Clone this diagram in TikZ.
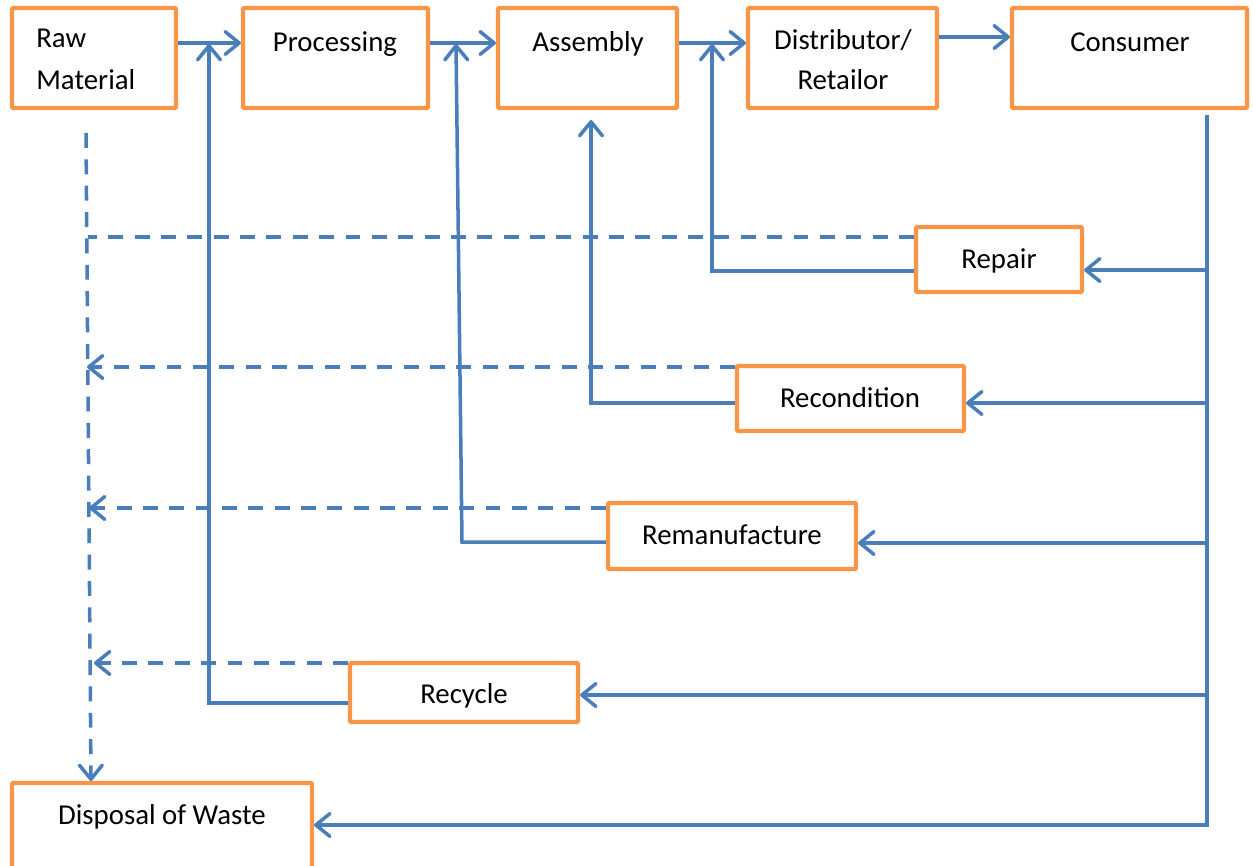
\documentclass[tikz,border=0pt]{standalone}
\usepackage{fontspec}
\setmainfont{Carlito}
\usetikzlibrary{arrows.meta,fit,calc}
\definecolor{boxorange}{HTML}{F79646}
\definecolor{lineblue}{HTML}{4A7EBB}
\begin{document}
\begin{tikzpicture}[x=0.02cm,y=-0.02cm,
  box/.style={draw=boxorange,line width=2.4pt,fill=white,inner sep=0pt,rounded corners=0.6pt},
  txt/.style={font=\fontsize{16.4}{20}\selectfont,inner sep=0pt,anchor=base},
  ln/.style={draw=lineblue,line width=2pt},
  arr/.style={ln,-{Straight Barb[length=8pt,width=13pt,line cap=round,round]}},
  darr/.style={arr,dash pattern=on 8.5pt off 6.5pt},
  dln/.style={ln,dash pattern=on 8.5pt off 6.5pt}]
\useasboundingbox (0,0) rectangle (1253,865);
% boxes
\node[box,fit={(12,8)(176,108)}] (raw) {};
\node[box,fit={(243,8)(428,108)}] (proc) {};
\node[box,fit={(498,8)(677,108)}] (asm) {};
\node[box,fit={(748,8)(937,108)}] (dist) {};
\node[box,fit={(1012,8)(1247,108)}] (cons) {};
\node[box,fit={(916,227)(1082,292)}] (rep) {};
\node[box,fit={(737,366)(964,431)}] (recon) {};
\node[box,fit={(608,503)(856,569)}] (reman) {};
\node[box,fit={(350,663)(578,722)}] (recy) {};
\node[box,fit={(12,783)(312,875)}] (disp) {};
% texts
\node[txt,anchor=base west] (traw1) at (36,48) {Raw};
\node[txt,anchor=base west] (traw2) at (36,90) {Material};
\node[txt] (tproc) at (335,52) {Processing};
\node[txt] (tasm) at (588,52) {Assembly};
\node[txt] (tdist1) at (843,50) {Distributor/};
\node[txt] (tdist2) at (843,90) {Retailor};
\node[txt] (tcons) at (1130,52) {Consumer};
\node[txt] (trep) at (999,268) {Repair};
\node[txt] (trecon) at (850,407) {Recondition};
\node[txt] (treman) at (732,544) {Remanufacture};
\node[txt] (trecy) at (464,703) {Recycle};
\node[txt] (tdisp) at (162,824) {Disposal of Waste};
% coordinates
\coordinate (top) at (0,43);
\coordinate (top2) at (0,37);
\coordinate (j1) at (209,44);
\coordinate (j2) at (456,44);
\coordinate (j3) at (712,44);
\coordinate (ctop) at (1207,115);
\coordinate (cbot) at (1207,825);
\coordinate (b1) at (1207,270);
\coordinate (b2) at (1207,403);
\coordinate (b3) at (1207,543);
\coordinate (b4) at (1207,695);
\coordinate (r1) at (712,271);
\coordinate (c1) at (591,403);
\coordinate (c2) at (591,120);
\coordinate (m1) at (462,542);
\coordinate (y1) at (209,703);
\coordinate (dtop) at (86,133);
\coordinate (dend) at (91,781);
\coordinate (d1) at (88,237);
\coordinate (d2) at (87,367);
\coordinate (d3) at (89,508);
\coordinate (d4) at (94,663);
% main chain
\draw[arr] (raw.east|-top) -- (proc.west|-top);
\draw[arr] (proc.east|-top) -- (asm.west|-top);
\draw[arr] (asm.east|-top) -- (dist.west|-top);
\draw[arr] (dist.east|-top2) -- (cons.west|-top2);
% consumer trunk
\draw[arr] (ctop) -- (cbot) -- (disp.east|-cbot);
\draw[arr] (b1) -- (rep.east|-b1);
\draw[arr] (b2) -- (recon.east|-b2);
\draw[arr] (b3) -- (reman.east|-b3);
\draw[arr] (b4) -- (recy.east|-b4);
% feedback loops
\draw[arr] (rep.west|-r1) -- (r1) -- (j3);
\draw[arr] (recon.west|-c1) -- (c1) -- (c2);
\draw[arr] (reman.west|-m1) -- (m1) -- (j2);
\draw[arr] (recy.west|-y1) -- (y1) -- (j1);
% dashed waste lines
\draw[darr] (dtop) -- (dend);
\draw[dln] (rep.west|-d1) -- (d1);
\draw[darr] (recon.west|-d2) -- (d2);
\draw[darr] (reman.west|-d3) -- (d3);
\draw[darr] (recy.west|-d4) -- (d4);
\end{tikzpicture}
\end{document}
